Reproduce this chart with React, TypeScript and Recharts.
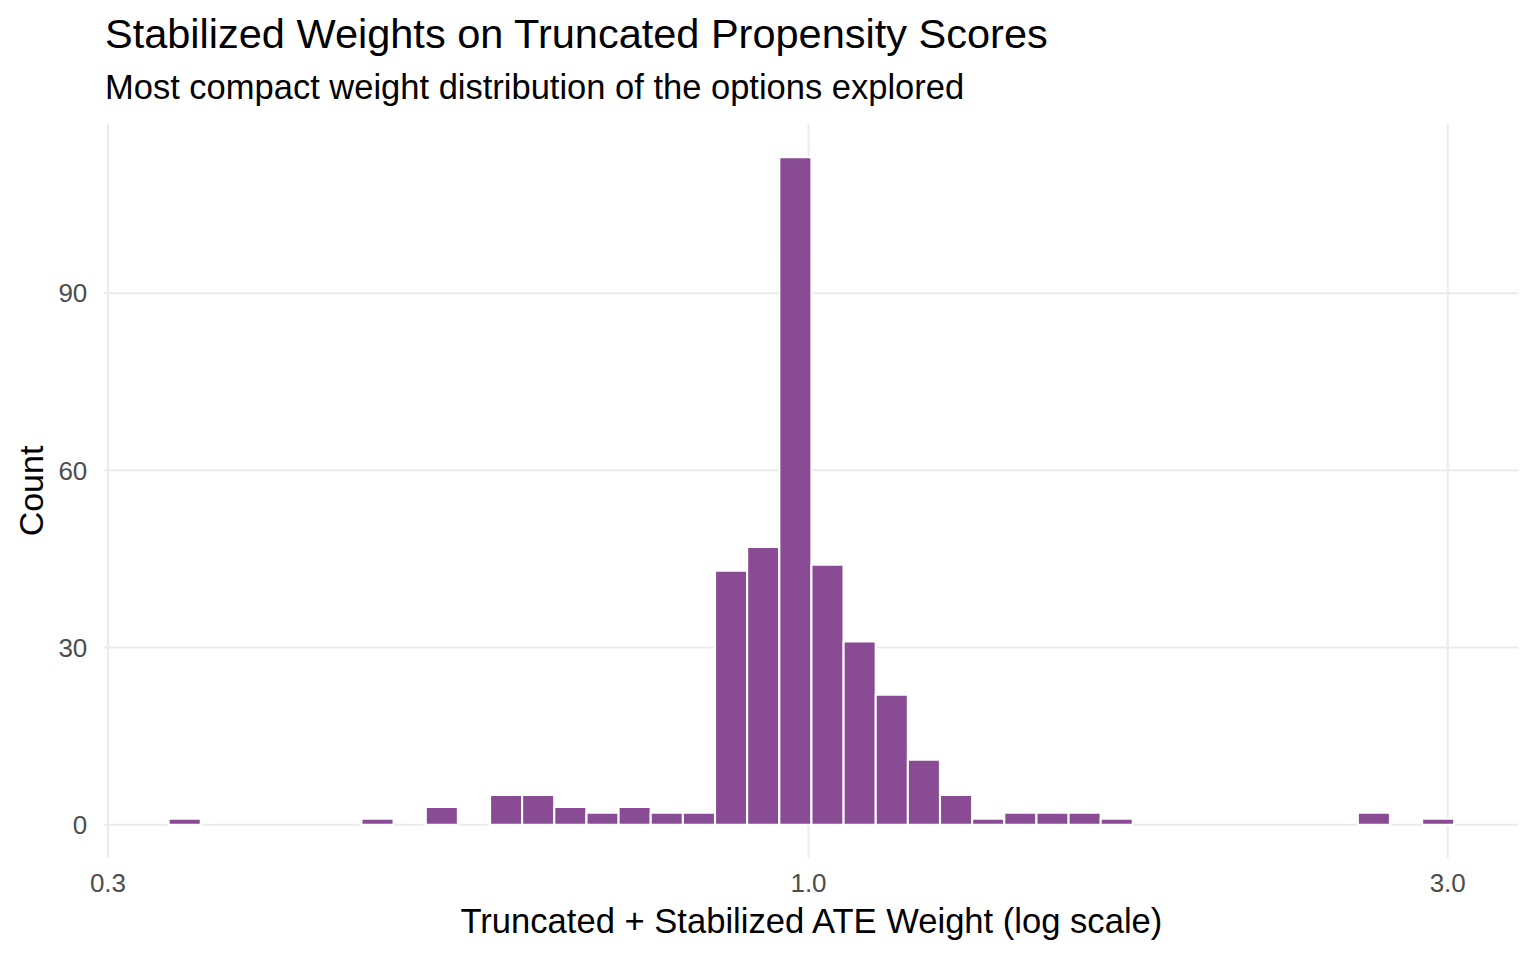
import React from "react";
import { BarChart, Bar, XAxis, YAxis, CartesianGrid } from "recharts";

// histogram bins (log-spaced centres) and counts
const binCenters = [
  0.3423, 0.3617, 0.3823, 0.404, 0.4269, 0.4512, 0.4768, 0.5039, 0.5325, 0.5627,
  0.5947, 0.6284, 0.6641, 0.7019, 0.7417, 0.7838, 0.8284, 0.8754, 0.9251, 0.9777,
  1.0332, 1.0919, 1.1539, 1.2194, 1.2887, 1.3619, 1.4392, 1.521, 1.6074, 1.6986,
  1.7951, 1.8971, 2.0048, 2.1187, 2.239, 2.3662, 2.5006, 2.6426, 2.7927, 2.9513,
];
const binCounts = [
  1, 0, 0, 0, 0, 0, 1, 0, 3, 0,
  5, 5, 3, 2, 3, 2, 2, 43, 47, 113,
  44, 31, 22, 11, 5, 1, 2, 2, 2, 1,
  0, 0, 0, 0, 0, 0, 0, 2, 0, 1,
];
const xTicks = [0.3, 1, 3];
const yTicks = [0, 30, 60, 90];

const title = "Stabilized Weights on Truncated Propensity Scores";
const subtitle = "Most compact weight distribution of the options explored";
const xTitle = "Truncated + Stabilized ATE Weight (log scale)";
const yTitle = "Count";

const data = binCenters.map((w, i) => ({ weight: w, count: binCounts[i] }));

const FONT = "'Liberation Sans', Arial, Helvetica, sans-serif";

export default function App() {
  return (
    <div
      style={{
        position: "absolute",
        left: 0,
        top: 0,
        width: 1536,
        height: 960,
        background: "#ffffff",
        fontFamily: FONT,
      }}
    >
      <BarChart
        width={1536}
        height={960}
        data={data}
        barCategoryGap={0}
        barGap={0}
        margin={{ top: 124, right: 17.5, bottom: 42, left: 44.3 }}
      >
        <CartesianGrid stroke="#EBEBEB" strokeWidth={2} syncWithTicks />
        <XAxis
          dataKey="weight"
          type="number"
          scale="log"
          domain={[0.2981, 3.388]}
          allowDataOverflow
          ticks={xTicks}
          interval={0}
          tickFormatter={(v: number) => v.toFixed(1)}
          tickLine={false}
          axisLine={false}
          tickSize={0}
          tickMargin={16}
          height={60}
          tick={{ fill: "#4D4D4D", fontSize: 26, fontFamily: FONT }}
        />
        <YAxis
          type="number"
          domain={[-5.65, 118.65]}
          allowDataOverflow
          ticks={yTicks}
          interval={0}
          tickLine={false}
          axisLine={false}
          tickSize={0}
          tickMargin={17}
          width={60}
          tick={{ fill: "#4D4D4D", fontSize: 26, fontFamily: FONT }}
        />
        <Bar
          dataKey="count"
          fill="#894B93"
          stroke="#FFFFFF"
          strokeWidth={2}
          isAnimationActive={false}
        />
      </BarChart>

      <svg
        width={1536}
        height={960}
        style={{ position: "absolute", left: 0, top: 0, pointerEvents: "none" }}
      >
        <text x={105} y={48} fontSize={41.5} fill="#000" fontFamily={FONT}>
          {title}
        </text>
        <text x={105} y={99} fontSize={34.5} fill="#000" fontFamily={FONT}>
          {subtitle}
        </text>
        <text
          x={811.4}
          y={933}
          fontSize={34.6}
          fill="#000"
          textAnchor="middle"
          fontFamily={FONT}
        >
          {xTitle}
        </text>
        <text
          x={42.5}
          y={491}
          fontSize={34}
          fill="#000"
          textAnchor="middle"
          fontFamily={FONT}
          transform="rotate(-90 42.5 491)"
        >
          {yTitle}
        </text>
      </svg>
    </div>
  );
}
